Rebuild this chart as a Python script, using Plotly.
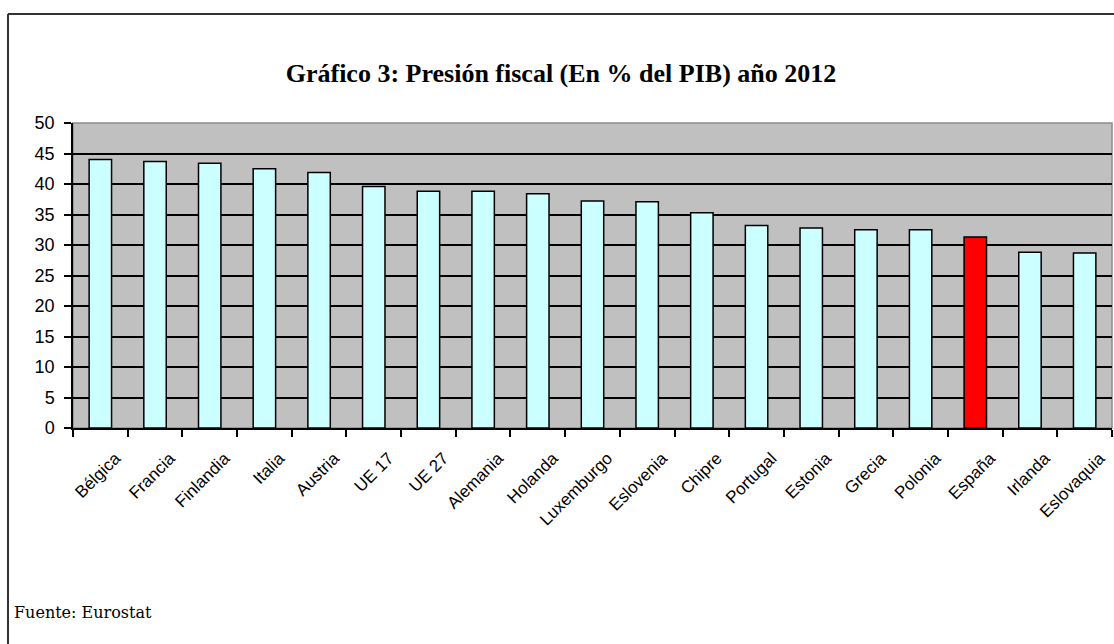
import plotly.graph_objects as go

# Presión fiscal 2012, % del PIB (Eurostat)
paises = ["Bélgica", "Francia", "Finlandia", "Italia", "Austria", "UE 17", "UE 27",
          "Alemania", "Holanda", "Luxemburgo", "Eslovenia", "Chipre", "Portugal",
          "Estonia", "Grecia", "Polonia", "España", "Irlanda", "Eslovaquia"]
presion = [44.0, 43.7, 43.4, 42.5, 41.9, 39.6, 38.8, 38.8, 38.4, 37.2, 37.1, 35.3,
           33.2, 32.8, 32.5, 32.5, 31.3, 28.8, 28.7]
y_ticks = list(range(0, 51, 5))

destacado = "España"
colores = ["#FF0000" if p == destacado else "#CCFFFF" for p in paises]

W, H = 1114, 644
M_L, M_R, M_T, M_B = 73, 2, 123, 216
pw, ph = W - M_L - M_R, H - M_T - M_B


def px_x(x):
    return (x - M_L) / pw


def px_y(y):
    return (H - M_B - y) / ph


fig = go.Figure(go.Bar(
    x=paises, y=presion,
    marker=dict(color=colores, line=dict(color="#000000", width=1.5)),
    width=0.41,
    hoverinfo="x+y",
))

fig.update_layout(
    width=W, height=H,
    margin=dict(l=M_L, r=M_R, t=M_T, b=M_B),
    paper_bgcolor="#FFFFFF",
    plot_bgcolor="#C0C0C0",
    showlegend=False,
    font=dict(family="Liberation Sans, Arial, sans-serif", color="#000000"),
    title=dict(
        text="<b>Gráfico 3: Presión fiscal (En % del PIB) año 2012</b>",
        font=dict(family="Liberation Serif, Times New Roman, serif", size=26, color="#000000"),
        x=(561 / W), xanchor="center", y=1 - 73 / H, yanchor="middle",
    ),
    xaxis=dict(
        type="category",
        tickangle=-45,
        tickson="boundaries",
        ticks="outside", ticklen=7, tickwidth=1.5, tickcolor="#000000",
        ticklabelstandoff=12, ticklabelshift=15,
        showline=True, linecolor="#000000", linewidth=1.5,
        showgrid=False,
        tickfont=dict(size=17, family="Liberation Sans, Arial, sans-serif"),
        range=[-0.5, len(paises) - 0.5],
        fixedrange=True,
    ),
    yaxis=dict(
        range=[0, 50],
        tickvals=y_ticks,
        ticks="outside", ticklen=7, tickwidth=1.5, tickcolor="#000000",
        ticklabelstandoff=6,
        showline=True, linecolor="#000000", linewidth=1.5,
        showgrid=True, gridcolor="#000000", gridwidth=1.8,
        zeroline=False,
        tickfont=dict(size=18, family="Liberation Sans, Arial, sans-serif"),
        fixedrange=True,
    ),
    shapes=[
        # outline of the plotting area
        dict(type="rect", xref="paper", yref="paper", x0=0, x1=1, y0=0, y1=1,
             line=dict(color="#8C8C8C", width=1.5), layer="below"),
        # frame around the whole chart
        dict(type="line", xref="paper", yref="paper",
             x0=px_x(8), x1=px_x(W + 5), y0=px_y(14), y1=px_y(14),
             line=dict(color="#333333", width=2)),
        dict(type="line", xref="paper", yref="paper",
             x0=px_x(8), x1=px_x(8), y0=px_y(14), y1=px_y(H + 5),
             line=dict(color="#333333", width=2)),
    ],
    annotations=[
        dict(text="Fuente: Eurostat", xref="paper", yref="paper",
             x=px_x(12), y=px_y(612), xanchor="left", yanchor="middle",
             showarrow=False,
             font=dict(family="DejaVu Serif, Liberation Serif, serif", size=16, color="#000000")),
    ],
)

fig.write_html("out.html", config={"displayModeBar": False})
